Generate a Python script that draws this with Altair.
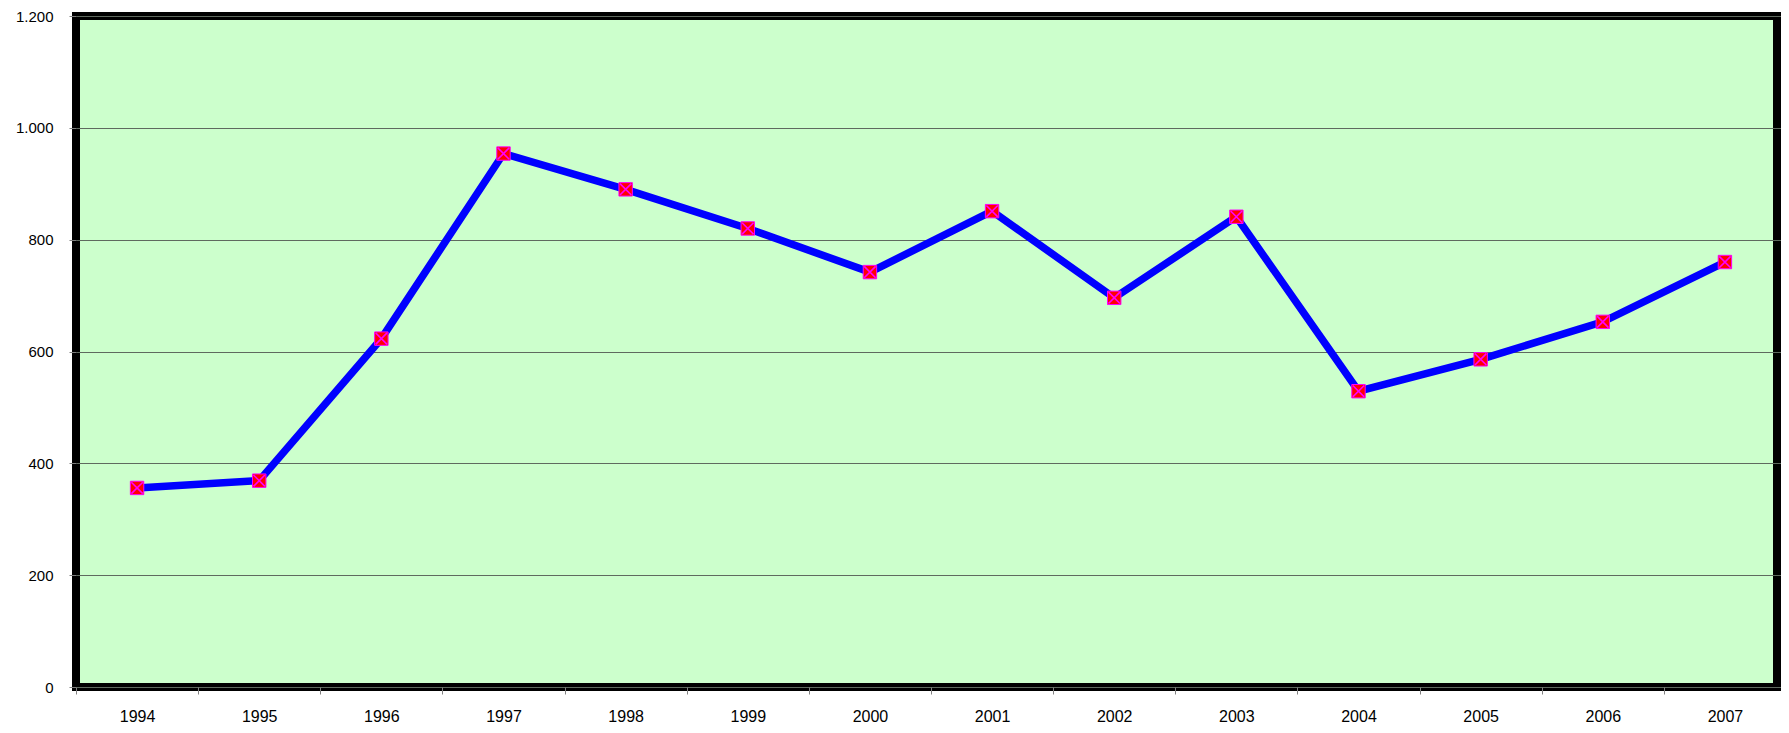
import altair as alt
import pandas as pd

years = ["1994", "1995", "1996", "1997", "1998", "1999", "2000",
         "2001", "2002", "2003", "2004", "2005", "2006", "2007"]
values = [356, 369, 623, 954, 890, 820, 742, 851, 696, 841, 529, 586, 653, 760]
y_ticks = [0, 200, 400, 600, 800, 1000, 1200]

df = pd.DataFrame({"year": years, "value": values})

FONT = "Liberation Sans"

x_enc = alt.X(
    "year:O",
    sort=years,
    scale=alt.Scale(type="band", paddingInner=0, paddingOuter=0, range=[0, 1710]),
    axis=alt.Axis(
        title=None, labelAngle=0, tickBand="extent", domain=False,
        ticks=True, tickSize=7, tickColor="#808080", tickWidth=1,
        labelPadding=14, labelFont=FONT, labelFontSize=16,
        labelColor="black", grid=False,
    ),
)
y_enc = alt.Y(
    "value:Q",
    scale=alt.Scale(domain=[0, 1200], nice=False),
    axis=alt.Axis(
        title=None, values=y_ticks, domain=False,
        tickSize=7, tickColor="#808080", tickWidth=1,
        labelPadding=16, labelFont=FONT, labelFontSize=15, labelColor="black",
        labelExpr="replace(format(datum.value, ','), ',', '.')",
        grid=True, gridColor="#5f6a5f", gridWidth=1,
    ),
)

base = alt.Chart(df)

line = base.mark_line(color="#0000FF", strokeWidth=7.5).encode(x=x_enc, y=y_enc)

squares = base.mark_point(
    shape="square", filled=True, fill="#FF0000", stroke="#FF00FF",
    strokeWidth=1, size=180, opacity=1,
).encode(x=x_enc, y=y_enc)

crosses = base.mark_point(
    shape="M-0.85,-0.85L0.85,0.85M0.85,-0.85L-0.85,0.85",
    filled=False, stroke="#FF00FF", strokeWidth=1.6, size=180, opacity=1,
).encode(x=x_enc, y=y_enc)

chart = (
    alt.layer(line, squares, crosses)
    .properties(
        width=1701, height=671,
        autosize=alt.AutoSizeParams(type="none"),
        padding={"left": 68, "top": 8, "right": 4, "bottom": 38},
        background="white",
    )
    .configure_view(stroke="black", strokeWidth=8, fill="#CCFFCC")
)

chart.save("out.html", embed_options={"renderer": "svg", "actions": False})
